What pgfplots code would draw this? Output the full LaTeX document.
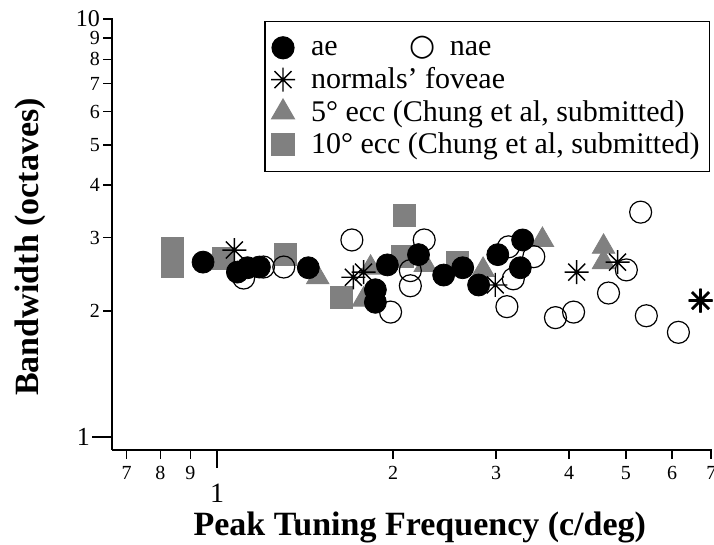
\documentclass[border=0pt]{standalone}
\usepackage{fontspec}
\setmainfont{Liberation Serif}
\newfontfamily\dejavu{DejaVu Sans}
\usepackage{pgfplots}
\pgfplotsset{compat=1.18}
\definecolor{mgray}{gray}{0.5}
\pgfdeclareplotmark{star8}{%
  \pgfpathmoveto{\pgfqpoint{0pt}{\pgfplotmarksize}}\pgfpathlineto{\pgfqpoint{0pt}{-\pgfplotmarksize}}%
  \pgfpathmoveto{\pgfqpoint{\pgfplotmarksize}{0pt}}\pgfpathlineto{\pgfqpoint{-\pgfplotmarksize}{0pt}}%
  \pgfpathmoveto{\pgfqpointpolar{45}{\pgfplotmarksize}}\pgfpathlineto{\pgfqpointpolar{225}{\pgfplotmarksize}}%
  \pgfpathmoveto{\pgfqpointpolar{135}{\pgfplotmarksize}}\pgfpathlineto{\pgfqpointpolar{315}{\pgfplotmarksize}}%
  \pgfusepathqstroke}
\begin{document}
\begin{tikzpicture}
\path[use as bounding box] (-56pt,-47.5pt) rectangle (301pt,225pt);
\begin{axis}[name=ax, at={(0pt,0pt)}, anchor=south west, scale only axis, width=300pt, height=216pt,
  xmode=log, ymode=log, xmin=0.661, xmax=7.02, ymin=0.931, ymax=10.05,
  axis x line*=bottom, axis y line*=left,
  axis line style={line width=0.9pt, -},
  tick align=outside, tick style={black, line width=0.8pt},
  major tick length=4.5pt,
  /pgf/number format/assume math mode=true,
  tick label style={font=\fontsize{10}{10}\selectfont},
  xtick={0.7,0.8,0.9,2,3,4,5,6,7}, xticklabels={7,8,9,2,3,4,5,6,7},
  ytick={2,3,4,5,6,7,8,9,10}, yticklabels={2,3,4,5,6,7,8,9,{\fontsize{12}{12}\selectfont 10}},
  yticklabel style={xshift=2pt},
  minor xtick={}, minor ytick={},
  extra x ticks={1}, extra x tick labels={1},
  extra x tick style={major tick length=9pt, tick label style={font=\fontsize{14}{14}\selectfont, inner sep=0pt, yshift=-8pt}},
  extra y ticks={1}, extra y tick labels={1},
  extra y tick style={major tick length=10pt, tick label style={font=\fontsize{13}{13}\selectfont, xshift=0.5pt}},
  xlabel={Peak Tuning Frequency (c/deg)}, ylabel={Bandwidth (octaves)},
  label style={font=\fontsize{17}{17}\selectfont\bfseries},
  xlabel style={at={(axis description cs:0.513,-0.18)}, anchor=center, inner sep=0pt},
  ylabel style={at={(axis description cs:-0.1367,0.47)}, anchor=center},
  legend style={at={(axis description cs:0.997,0.993)}, anchor=north east,
    draw=black, line width=0.6pt, font=\fontsize{15}{16}\selectfont,
    row sep=0.3pt, inner xsep=3pt, inner ysep=5.5pt, cells={anchor=west}},
  legend cell align=left,
  legend image post style={xshift=4pt},
]
% 10 deg ecc (squares)
\addplot[only marks, forget plot, color=mgray, mark=square*, mark size=5.5pt, mark options={draw=mgray, fill=mgray}] coordinates {
(0.839,2.83) (0.839,2.56) (1.025,2.68) (1.309,2.73) (1.632,2.16) (2.09,3.38) (2.07,2.71) (2.58,2.62)};
% 5 deg ecc (triangles)
\addplot[only marks, forget plot, color=mgray, mark=triangle*, mark size=6.5pt, mark options={draw=mgray, fill=mgray}] coordinates {
(1.486,2.41) (1.83,2.54) (1.78,2.13) (2.27,2.58) (2.85,2.51) (3.60,2.96) (4.58,2.85) (4.58,2.62)};
% ae (filled)
\addplot[only marks, forget plot, color=black, mark=*, mark size=5.5pt, mark options={draw=black, fill=black}] coordinates {
(0.946,2.62) (1.083,2.48) (1.127,2.54) (1.181,2.55) (1.432,2.54) (1.865,2.25) (1.865,2.10)
(1.955,2.58) (2.21,2.73) (2.44,2.44) (2.63,2.54) (2.80,2.31) (3.02,2.73) (3.33,2.96) (3.30,2.54)};
% nae (open)
\addplot[only marks, forget plot, color=black, mark=o, mark size=5.5pt, mark options={draw=black, line width=0.6pt}] coordinates {
(1.11,2.40) (1.20,2.55) (1.30,2.55) (1.70,2.96) (1.98,1.99) (2.14,2.50) (2.14,2.30) (2.26,2.96)
(3.13,2.05) (3.15,2.85) (3.21,2.39) (3.48,2.70) (3.79,1.93) (4.07,1.99) (4.67,2.21) (5.01,2.51)
(5.30,3.45) (5.42,1.95) (6.15,1.78)};
% normals' foveae (stars)
\addplot[only marks, forget plot, color=black, mark=star8, mark size=6pt, mark options={draw=black, line width=0.7pt}] coordinates {
(1.07,2.80) (1.71,2.41) (1.78,2.48) (2.99,2.31) (4.12,2.48) (4.84,2.62) (6.71,2.12)};
\addplot[only marks, forget plot, color=black, mark=star8, mark size=6pt, mark options={draw=black, line width=1.4pt}] coordinates {
(6.71,2.12)};
% legend
\addlegendimage{only marks, color=black, mark=*, mark size=5.5pt, mark options={draw=black, fill=black}}
\addlegendentry{\hspace{6pt}ae\hspace{36pt}{\dejavu\fontsize{15}{15}\selectfont ○}\hspace{7pt}nae}
\addlegendimage{only marks, color=black, mark=star8, mark size=6pt, mark options={draw=black, line width=0.7pt}}
\addlegendentry{\hspace{6pt}normals' foveae}
\addlegendimage{only marks, color=mgray, mark=triangle*, mark size=6.5pt, mark options={draw=mgray, fill=mgray}}
\addlegendentry{\hspace{6pt}5° ecc (Chung et al, submitted)}
\addlegendimage{only marks, color=mgray, mark=square*, mark size=5.5pt, mark options={draw=mgray, fill=mgray}}
\addlegendentry{\hspace{6pt}10° ecc (Chung et al, submitted)}
\end{axis}
\end{tikzpicture}
\end{document}
